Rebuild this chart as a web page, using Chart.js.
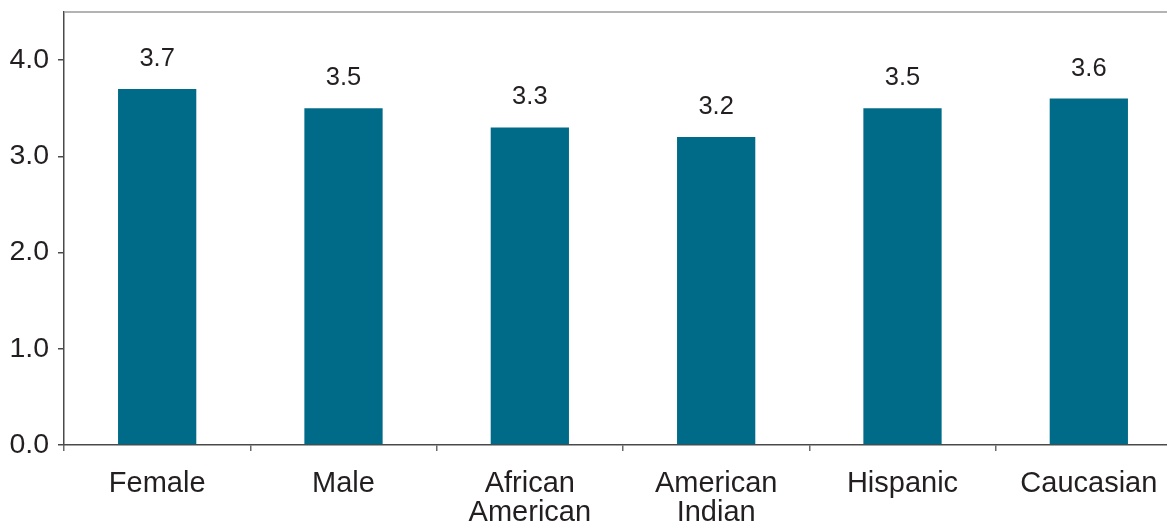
<!DOCTYPE html>
<html lang="en">
<head>
    <meta charset="UTF-8">
    <title>Bar chart</title>
    <script src="https://cdn.jsdelivr.net/npm/chart.js"></script>
    <style>
        html, body {
            margin: 0;
            padding: 0;
            background: #ffffff;
            overflow: hidden;
        }
        .chart-box {
            width: 1182px;
            height: 523px;
        }
    </style>
</head>
<body>
    <div class="chart-box">
        <canvas id="chart" width="1182" height="523"></canvas>
    </div>

    <script>
        // data
        const categories = ['Female', 'Male', ['African', 'American'], ['American', 'Indian'], 'Hispanic', 'Caucasian'];
        const values = [3.7, 3.5, 3.3, 3.2, 3.5, 3.6];
        const yTicks = [0, 1, 2, 3, 4];

        const barColor = '#006b88';
        const textColor = '#231f20';
        const fontFamily = '"Liberation Sans", Arial, sans-serif';

        // value labels above the bars
        const valueLabels = {
            id: 'valueLabels',
            afterDatasetsDraw(chart) {
                const ctx = chart.ctx;
                const meta = chart.getDatasetMeta(0);
                ctx.save();
                ctx.font = '25.5px ' + fontFamily;
                ctx.fillStyle = textColor;
                ctx.textAlign = 'center';
                ctx.textBaseline = 'middle';
                meta.data.forEach((bar, i) => {
                    ctx.fillText(values[i].toFixed(1), bar.x, bar.y - 30);
                });
                ctx.restore();
            }
        };

        // thin grey line along the top of the plot area
        const topLine = {
            id: 'topLine',
            afterDraw(chart) {
                const { ctx, chartArea } = chart;
                ctx.save();
                ctx.strokeStyle = '#9a9a9a';
                ctx.lineWidth = 1.5;
                ctx.beginPath();
                ctx.moveTo(chartArea.left, chartArea.top);
                ctx.lineTo(chartArea.right, chartArea.top);
                ctx.stroke();
                ctx.restore();
            }
        };

        new Chart(document.getElementById('chart'), {
            type: 'bar',
            data: {
                labels: categories,
                datasets: [{
                    data: values,
                    backgroundColor: barColor,
                    borderWidth: 0,
                    categoryPercentage: 1.0,
                    barPercentage: 0.42
                }]
            },
            options: {
                responsive: false,
                animation: false,
                layout: { padding: { top: 12, left: 0, right: 0, bottom: 0 } },
                plugins: {
                    legend: { display: false },
                    tooltip: { enabled: false }
                },
                scales: {
                    x: {
                        afterFit(scale) {
                            scale.height = 78;
                            scale.paddingLeft = 0;
                            scale.paddingRight = 0;
                        },
                        border: { display: true, color: '#4a4a4a', width: 1.5 },
                        grid: {
                            display: true,
                            drawOnChartArea: false,
                            drawTicks: true,
                            tickLength: 6,
                            color: '#6a6a6a',
                            lineWidth: 1.5
                        },
                        ticks: {
                            color: textColor,
                            font: { family: fontFamily, size: 29, lineHeight: 1.0 },
                            padding: 18,
                            maxRotation: 0,
                            autoSkip: false
                        }
                    },
                    y: {
                        min: 0,
                        max: 4.5,
                        afterFit(scale) {
                            scale.width = 64;
                            scale.paddingTop = 0;
                            scale.paddingBottom = 0;
                        },
                        afterBuildTicks(scale) {
                            scale.ticks = yTicks.map(v => ({ value: v }));
                        },
                        border: { display: true, color: '#4a4a4a', width: 1.5 },
                        grid: {
                            display: true,
                            drawOnChartArea: false,
                            drawTicks: true,
                            tickLength: 6,
                            color: '#4a4a4a',
                            lineWidth: 1.5
                        },
                        ticks: {
                            color: textColor,
                            font: { family: fontFamily, size: 28.5 },
                            padding: 9,
                            callback: v => Number(v).toFixed(1)
                        }
                    }
                }
            },
            plugins: [valueLabels, topLine]
        });
    </script>
</body>
</html>
